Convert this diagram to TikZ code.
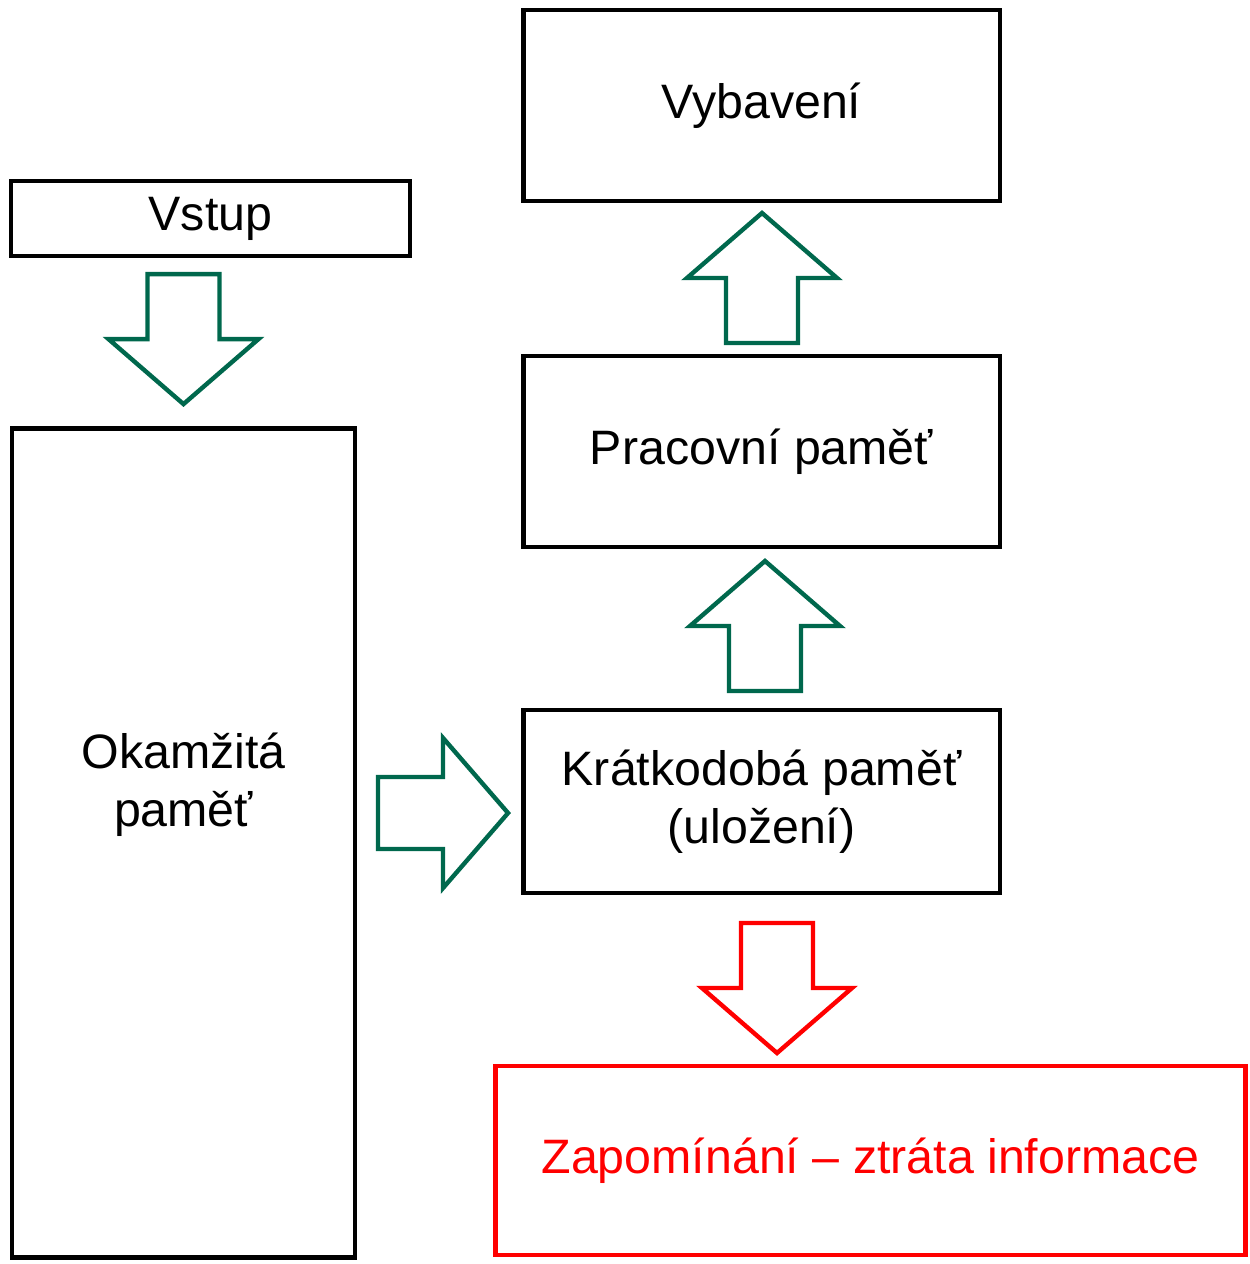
\documentclass[tikz,border=0pt]{standalone}
\usepackage{fontspec}
\setmainfont{Liberation Sans}
\usetikzlibrary{calc}
\definecolor{arrowgreen}{RGB}{0,104,77}
\definecolor{forgetred}{RGB}{255,0,0}
\tikzset{
	memorybox/.style={draw, line width=2.8pt, outer sep=0pt, inner sep=0pt, align=center},
	fatarrowline/.style={line width=2.5pt, line join=miter},
}
\def\fatarrow[#1]#2#3{\begin{scope}[shift={#2}, rotate=#3]\draw[fatarrowline, #1] (0,0) -- (-75,-65) -- (-36,-65) -- (-36,-130) -- (36,-130) -- (36,-65) -- (75,-65) -- cycle;\end{scope}}

\begin{document}
\begin{tikzpicture}[x=0.02cm, y=-0.02cm, font=\fontsize{27.5}{33}\selectfont]
			%%%%% START %%%%%
			
			\useasboundingbox (0,0) rectangle (1250,1264);
			
			\node[memorybox, minimum width=7.98cm, minimum height=1.5cm] (vstup) at (210.5,218.5) {Vstup};
			\node[memorybox, minimum width=6.86cm, minimum height=16.6cm] (okam) at (183.5,843) {};
			\node[align=center] (okamtxt) at ($(okam.center)+(0,-58)$) {Okamžitá\\paměť};
			
			\node[memorybox, minimum width=9.54cm, minimum height=3.82cm] (vybav) at (761.5,105.5) {Vybavení};
			\node[memorybox, minimum width=9.54cm, minimum height=3.82cm] (prac) at (761.5,451.5) {Pracovní paměť};
			\node[memorybox, minimum width=9.54cm, minimum height=3.66cm] (kratk) at (761.5,801.5) {Krátkodobá paměť\\(uložení)};
			\node[memorybox, draw=forgetred, text=forgetred, minimum width=15.02cm, minimum height=3.78cm] (zapom) at (870.5,1160.5) {Zapomínání – ztráta informace};
			
			\fatarrow[arrowgreen]{($(okam.north)+(0,-24)$)}{0}
			\fatarrow[arrowgreen]{($(vybav.south)+(0.5,12)$)}{180}
			\fatarrow[arrowgreen]{($(prac.south)+(3.5,14)$)}{180}
			\fatarrow[arrowgreen]{($(kratk.west)+(-15,11.5)$)}{90}
			\fatarrow[forgetred]{($(zapom.north)+(-93.5,-13)$)}{0}
			
			%%%%% END %%%%%
\end{tikzpicture}
\end{document}
